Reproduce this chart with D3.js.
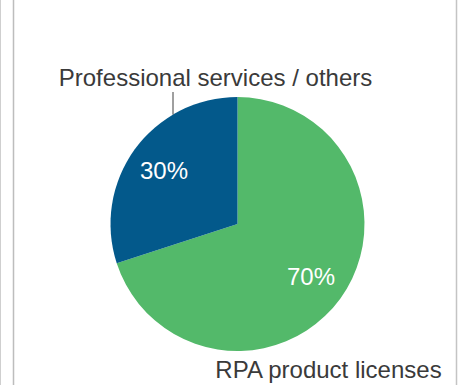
<!DOCTYPE html>
<html>
<head>
<meta charset="utf-8">
<script src="https://cdn.jsdelivr.net/npm/d3@7"></script>
<style>
  body { margin: 0; background: #fff; }
  svg { display: block; font-family: "Liberation Sans", Arial, sans-serif; }
</style>
</head>
<body>
<svg id="chart" width="460" height="385"></svg>
<script>
// chart data
var categories = ["RPA product licenses", "Professional services / others"];
var shares = [70, 30];
var colors = ["#53b96a", "#03598b"];

var width = 460, height = 385;
var cx = 237.5, cy = 224, radius = 127;

var svg = d3.select("#chart");

// frame lines
svg.append("line").attr("x1", 0.5).attr("x2", 0.5).attr("y1", 0).attr("y2", height)
  .attr("stroke", "#cfcfcf").attr("stroke-width", 1);
svg.append("line").attr("x1", 13.5).attr("x2", 13.5).attr("y1", 0).attr("y2", height)
  .attr("stroke", "#bdbdbd").attr("stroke-width", 1.5);
svg.append("line").attr("x1", 456.5).attr("x2", 456.5).attr("y1", 0).attr("y2", height)
  .attr("stroke", "#c4c4c4").attr("stroke-width", 1.5);

var data = categories.map(function(c, i) { return {name: c, value: shares[i], color: colors[i]}; });

var pie = d3.pie().sort(null).value(function(d) { return d.value; });
var arc = d3.arc().innerRadius(0).outerRadius(radius);
var labelArc = d3.arc().innerRadius(radius * 0.715).outerRadius(radius * 0.715);

var g = svg.append("g").attr("transform", "translate(" + cx + "," + cy + ")");
var arcs = pie(data);

g.selectAll("path.slice")
  .data(arcs)
  .enter()
  .append("path")
  .attr("class", "slice")
  .attr("d", arc)
  .attr("fill", function(d) { return d.data.color; });

// percentage labels inside
g.selectAll("text.pct")
  .data(arcs)
  .enter()
  .append("text")
  .attr("class", "pct")
  .attr("x", function(d) { return labelArc.centroid(d)[0]; })
  .attr("y", function(d) { return labelArc.centroid(d)[1] + 8; })
  .attr("text-anchor", "middle")
  .style("font-size", "24px")
  .attr("fill", "#fff")
  .text(function(d) { return d.data.value + "%"; });

// RPA product licenses, below the pie
var a0 = arcs[0];
svg.append("text")
  .attr("x", cx + 91)
  .attr("y", cy + radius + 27)
  .attr("text-anchor", "middle")
  .style("font-size", "24px")
  .attr("fill", "#3a3a3a")
  .text(a0.data.name);

// Professional services / others, above with leader line
var a1 = arcs[1];
var edgeX = -64.5;
var edgeY = -Math.sqrt(radius * radius - edgeX * edgeX);
g.append("line")
  .attr("x1", edgeX).attr("x2", edgeX)
  .attr("y1", edgeY).attr("y2", -radius - 5)
  .attr("stroke", "#404040").attr("stroke-width", 1);
svg.append("text")
  .attr("x", cx - 22)
  .attr("y", 86)
  .attr("text-anchor", "middle")
  .style("font-size", "24px")
  .attr("fill", "#3a3a3a")
  .text(a1.data.name);
</script>
</body>
</html>
